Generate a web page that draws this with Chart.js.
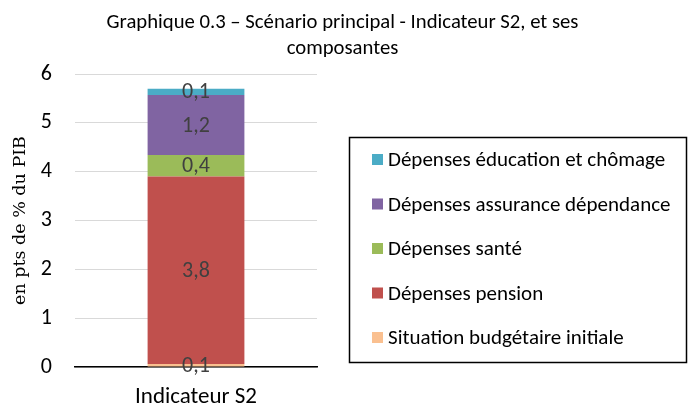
<!DOCTYPE html>
<html>
<head>
<meta charset="utf-8">
<script src="https://cdn.jsdelivr.net/npm/chart.js@4"></script>
<style>
  html, body { margin: 0; padding: 0; background: #fff; }
  #wrap { width: 689px; height: 406px; }
</style>
</head>
<body>
<div id="wrap"><canvas id="barChart" width="689" height="406"></canvas></div>
<script>
const FONT = 'Carlito, Lato, "Open Sans", sans-serif';

const categories = ['Indicateur S2'];
const seriesNames = [
    'Situation budgétaire initiale',
    'Dépenses pension',
    'Dépenses santé',
    'Dépenses assurance dépendance',
    'Dépenses éducation et chômage'
];
const situationInitiale = [0.06];
const depensesPension = [3.84];
const depensesSante = [0.44];
const depensesDependance = [1.23];
const depensesEducation = [0.13];
const yTicks = [0, 1, 2, 3, 4, 5, 6];
const titleLines = ['Graphique 0.3 – Scénario principal - Indicateur S2, et ses', 'composantes'];

const COLORS = ['#FAC090', '#C0504D', '#9BBB59', '#8064A2', '#4BACC6'];
const seriesValues = [situationInitiale, depensesPension, depensesSante, depensesDependance, depensesEducation];

// titre centré sur toute la largeur du canvas
const pageTitle = {
    id: 'pageTitle',
    afterDraw(chart) {
        const ctx = chart.ctx;
        ctx.save();
        ctx.font = '20.7px ' + FONT;
        ctx.fillStyle = '#000';
        ctx.textAlign = 'center';
        ctx.textBaseline = 'middle';
        titleLines.forEach((line, i) => ctx.fillText(line, 342.5, 23 + i * 25.5));
        ctx.restore();
    }
};

// étiquettes au centre de chaque segment
const valueLabels = {
    id: 'valueLabels',
    afterDatasetsDraw(chart) {
        const ctx = chart.ctx;
        ctx.save();
        ctx.font = '22px ' + FONT;
        ctx.fillStyle = '#404040';
        ctx.textAlign = 'center';
        ctx.textBaseline = 'middle';
        chart.data.datasets.forEach((ds, i) => {
            chart.getDatasetMeta(i).data.forEach((bar, j) => {
                const txt = ds.data[j].toFixed(1).replace('.', ',');
                ctx.fillText(txt, bar.x, (bar.y + bar.base) / 2 + 1);
            });
        });
        ctx.restore();
    }
};

// légende encadrée à droite, ordre inversé
const boxLegend = {
    id: 'boxLegend',
    afterDraw(chart) {
        const ctx = chart.ctx;
        ctx.save();
        ctx.strokeStyle = '#000';
        ctx.lineWidth = 1.5;
        ctx.strokeRect(349.5, 137.5, 337, 225);
        ctx.font = '21px ' + FONT;
        ctx.textBaseline = 'middle';
        const items = chart.data.datasets.slice().reverse();
        items.forEach((ds, k) => {
            const y = 160 + k * 44.5;
            ctx.fillStyle = ds.backgroundColor;
            ctx.fillRect(372, y - 6, 11, 11);
            ctx.fillStyle = '#000';
            ctx.fillText(ds.label, 388, y + 1);
        });
        ctx.restore();
    }
};

new Chart(document.getElementById('barChart'), {
    type: 'bar',
    data: {
        labels: categories,
        datasets: seriesNames.map((name, i) => ({
            label: name,
            data: seriesValues[i],
            backgroundColor: COLORS[i],
            borderWidth: 0,
            categoryPercentage: 1,
            barPercentage: 0.4
        }))
    },
    options: {
        responsive: false,
        animation: false,
        devicePixelRatio: 1,
        layout: { padding: { left: 0, right: 372, top: 74, bottom: 0 } },
        plugins: {
            legend: { display: false },
            tooltip: { enabled: false },
            title: { display: false }
        },
        scales: {
            x: {
                stacked: true,
                grid: { display: false },
                border: { display: true, color: '#000', width: 1.5 },
                ticks: { color: '#000', font: { family: FONT, size: 23 }, padding: 8 },
                afterFit(scale) { scale.height = 39; }
            },
            y: {
                stacked: true,
                min: yTicks[0],
                max: yTicks[yTicks.length - 1],
                afterBuildTicks(scale) { scale.ticks = yTicks.map(v => ({ value: v })); },
                grid: { color: '#d9d9d9', lineWidth: 1, drawTicks: false },
                border: { display: false },
                ticks: { color: '#000', font: { family: FONT, size: 22 }, padding: 23 },
                title: {
                    display: true,
                    text: 'en pts de % du PIB',
                    color: '#000',
                    font: { family: '"DejaVu Serif", "Liberation Serif", serif', size: 17.5 },
                    padding: { top: 10, bottom: 0 }
                },
                afterFit(scale) { scale.width = 75; }
            }
        }
    },
    plugins: [pageTitle, valueLabels, boxLegend]
});
</script>
</body>
</html>
